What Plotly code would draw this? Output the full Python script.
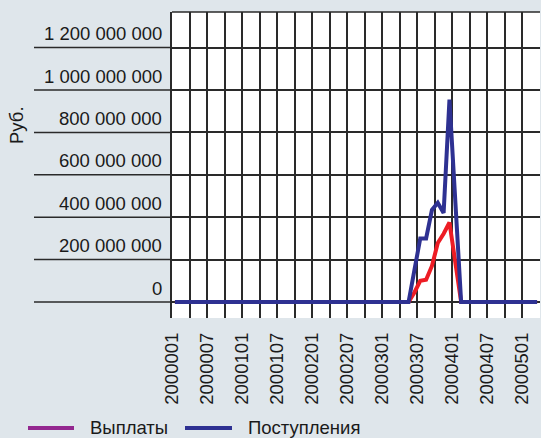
import plotly.graph_objects as go

# ---- data ----
x_tick_labels = ["2000001", "2000007", "2000101", "2000107", "2000201", "2000207",
                 "2000301", "2000307", "2000401", "2000407", "2000501"]
y_ticks = [0, 200e6, 400e6, 600e6, 800e6, 1000e6, 1200e6]
y_tick_labels = ["0", "200 000 000", "400 000 000", "600 000 000", "800 000 000",
                 "1 000 000 000", "1 200 000 000"]

vyplaty = [0, 0, 0, 0, 0, 0, 0, 0, 0, 0,
           0, 0, 0, 0, 0, 0, 0, 0, 0, 0,
           0, 0, 0, 0, 0, 0, 0, 0, 0, 0,
           0, 0, 0, 0, 0, 0, 0, 0, 0, 0,
           0, 45e6, 100e6, 105e6, 170e6, 278e6, 322e6, 375e6, 190e6, 0,
           0, 0, 0, 0, 0, 0, 0, 0, 0, 0,
           0, 0, 0]
postupleniya = [0, 0, 0, 0, 0, 0, 0, 0, 0, 0,
                0, 0, 0, 0, 0, 0, 0, 0, 0, 0,
                0, 0, 0, 0, 0, 0, 0, 0, 0, 0,
                0, 0, 0, 0, 0, 0, 0, 0, 0, 0,
                0, 150e6, 300e6, 300e6, 434e6, 468e6, 420e6, 955e6, 470e6, 0,
                0, 0, 0, 0, 0, 0, 0, 0, 0, 0,
                0, 0, 0]
months = list(range(len(postupleniya)))

# ---- style ----
W, H = 541, 438
ML, MR, MT, MB = 172, 1, 12, 120
BG = "#dfe6eb"
GRID = "#2a2a2a"
RED = "#ed1c24"
BLUE = "#2e3192"
PURPLE = "#93278f"
FONT = "Liberation Sans, Arial, Helvetica, sans-serif"
TXT = "#1a1a1a"
FS = 18.5
PW = W - ML - MR
PH = H - MT - MB


def px_x(p):
    return (p - ML) / PW


def px_y(p):
    return (H - MB - p) / PH


fig = go.Figure()
fig.add_trace(go.Scatter(x=months, y=vyplaty, mode="lines", name="Выплаты",
                         line=dict(color=RED, width=4), showlegend=False))
fig.add_trace(go.Scatter(x=months, y=postupleniya, mode="lines", name="Поступления",
                         line=dict(color=BLUE, width=4), showlegend=False))

n_grid = len(months) // 3 + 1
x_tickvals = [-0.5 + 3 * k for k in range(n_grid)]
x_ticktext = [x_tick_labels[k // 2] if (k % 2 == 0 and k // 2 < len(x_tick_labels)) else ""
              for k in range(n_grid)]

fig.update_xaxes(range=[-0.5, len(months) - 0.5], tickvals=x_tickvals, ticktext=x_ticktext,
                 tickangle=-90, showgrid=True, gridcolor=GRID, gridwidth=1.5,
                 zeroline=False, showline=False, ticks="", ticklabelstandoff=10,
                 tickfont=dict(size=FS, color=TXT, family=FONT))
fig.update_yaxes(range=[-75.5e6, 1368e6], tickvals=y_ticks, showticklabels=False,
                 showgrid=True, gridcolor=GRID, gridwidth=1.5, zeroline=False,
                 showline=True, linecolor=GRID, linewidth=1.5, ticks="")

shapes = []
annotations = []
for v, lab in zip(y_ticks, y_tick_labels):
    shapes.append(dict(type="line", xref="paper", yref="y", x0=px_x(34), x1=0, y0=v, y1=v,
                       line=dict(color=GRID, width=1.5)))
    annotations.append(dict(xref="paper", yref="y", x=px_x(164), y=v, xanchor="right",
                            yanchor="middle", yshift=14, showarrow=False, text=lab,
                            font=dict(size=FS, color=TXT, family=FONT)))
# top border
shapes.append(dict(type="line", xref="paper", yref="paper", x0=0, x1=1, y0=1, y1=1,
                   line=dict(color=GRID, width=1.5)))

# axis title
annotations.append(dict(xref="paper", yref="paper", x=px_x(16), y=px_y(125), text="Руб.",
                        textangle=-90, showarrow=False, xanchor="center", yanchor="middle",
                        font=dict(size=FS, color=TXT, family=FONT)))

# legend (manual, to match the reference swatch length)
legend_items = [("Выплаты", PURPLE, 28, 74, 88), ("Поступления", BLUE, 185, 232, 246)]
for name, col, x0, x1, xt in legend_items:
    shapes.append(dict(type="line", xref="paper", yref="paper", x0=px_x(x0), x1=px_x(x1),
                       y0=px_y(428), y1=px_y(428), line=dict(color=col, width=4)))
    annotations.append(dict(xref="paper", yref="paper", x=px_x(xt), y=px_y(427), text=name,
                            showarrow=False, xanchor="left", yanchor="middle",
                            font=dict(size=FS, color=TXT, family=FONT)))

fig.update_layout(width=W, height=H, margin=dict(l=ML, r=MR, t=MT, b=MB, pad=0),
                  paper_bgcolor=BG, plot_bgcolor="white", showlegend=False,
                  shapes=shapes, annotations=annotations,
                  font=dict(family=FONT, size=FS, color=TXT))

fig.write_html("out.html", config={"displayModeBar": False},
               post_script="document.body.style.margin='0';document.body.style.background='%s';" % BG)
